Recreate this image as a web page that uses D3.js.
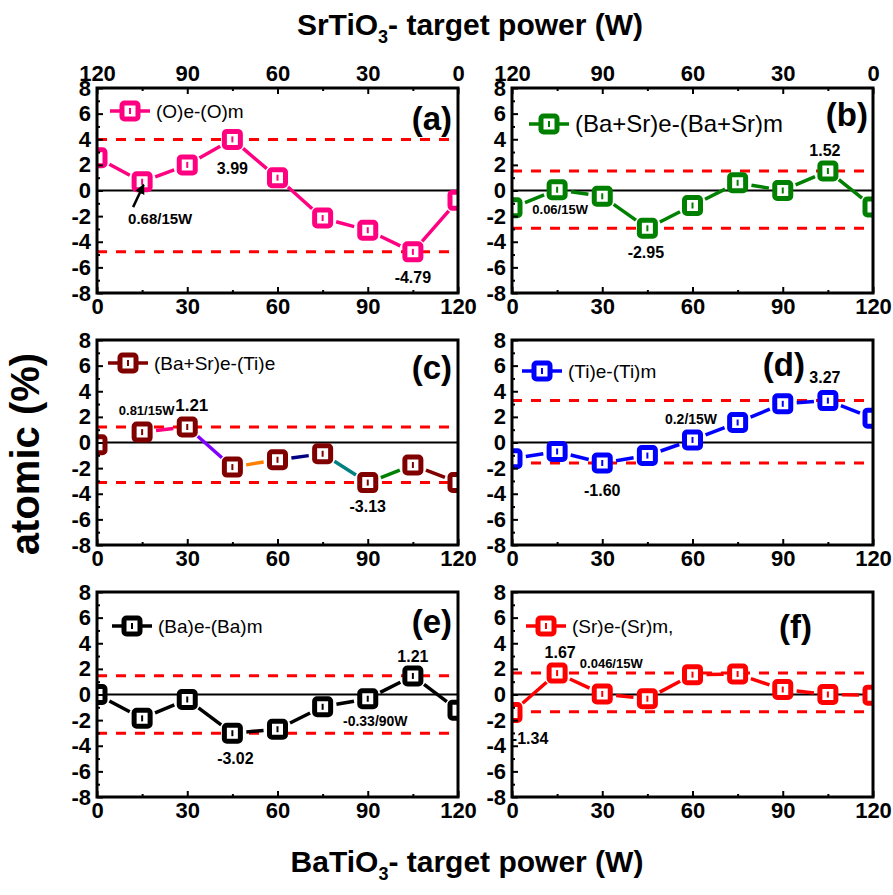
<!DOCTYPE html>
<html>
<head>
<meta charset="utf-8">
<script src="https://cdn.jsdelivr.net/npm/d3@7"></script>
<style>
  body { margin: 0; background: #fff; }
  text { font-family: "Liberation Sans", Arial, sans-serif; }
</style>
</head>
<body>
<script>
// Data (x = BaTiO3 target power, W)
var powers = [0, 15, 30, 45, 60, 75, 90, 105, 120];
var oDiff = [2.56, 0.68, 2.0, 3.99, 1.0, -2.15, -3.1, -4.79, -0.77];
var baSrDiff = [-1.35, 0.06, -0.45, -2.95, -1.17, 0.6, 0.0, 1.52, -1.28];
var baSrTiDiff = [-0.18, 0.81, 1.21, -1.92, -1.35, -0.88, -3.13, -1.76, -3.12];
var tiDiff = [-1.27, -0.7, -1.60, -1.02, 0.2, 1.56, 3.02, 3.27, 1.9];
var baDiff = [0.0, -1.86, -0.39, -3.02, -2.71, -0.96, -0.33, 1.45, -1.22];
var srDiff = [-1.40, 1.67, 0.046, -0.33, 1.55, 1.6, 0.39, 0.0, -0.05];

var seriesNames = ["(O)e-(O)m", "(Ba+Sr)e-(Ba+Sr)m", "(Ba+Sr)e-(Ti)e", "(Ti)e-(Ti)m", "(Ba)e-(Ba)m", "(Sr)e-(Sr)m,"];
var panelLetters = ["(a)", "(b)", "(c)", "(d)", "(e)", "(f)"];
var refLevels = [[3.99, -4.79], [1.52, -2.95], [1.21, -3.13], [3.27, -1.60], [1.47, -3.02], [1.67, -1.34]];

var yTicks = [-8, -6, -4, -2, 0, 2, 4, 6, 8];
var yMinor = [-7, -5, -3, -1, 1, 3, 5, 7];
var xTicks = [0, 30, 60, 90, 120];
var xMinor = [15, 45, 75, 105];
var topTicks = [120, 90, 60, 30, 0];

// annotations: [text, x, y, fontSize] in data units
var notes = [
  [["3.99", 45, 1.75, 16], ["0.68/15W", 21, -2.2, 15], ["-4.79", 105, -6.8, 16]],
  [["0.06/15W", 16, -1.5, 13], ["-2.95", 44.5, -4.85, 16], ["1.52", 104, 3.1, 16]],
  [["0.81/15W", 16.5, 2.5, 13], ["1.21", 31.5, 2.95, 17], ["-3.13", 90, -5.0, 16]],
  [["0.2/15W", 59.5, 1.8, 14], ["3.27", 104, 5.05, 16], ["-1.60", 30, -3.7, 16]],
  [["-3.02", 46, -5.0, 16], ["-0.33/90W", 92.5, -2.1, 14], ["1.21", 105, 2.95, 16]],
  [["1.67", 16, 3.25, 16], ["0.046/15W", 33, 2.4, 13], ["-1.34", 6, -3.4, 16]]
];

var allValues = [oDiff, baSrDiff, baSrTiDiff, tiDiff, baDiff, srDiff];
var colors = ["#ff0080", "#008000", "#800000", "#0000ff", "#000000", "#ff0000"];
// segment colours used in panel (c)
var cSegColors = ["none", "#ff0080", "#8000ff", "#ff8000", "#000080", "#008080", "#008000", "#800000"];

var W = 893, H = 895;
var colX = [97, 512], rowY = [88, 340, 592];
var pw = 361, ph = 205;
// legend / label placement per panel (pixels inside panel)
var legendPos = [[13, 23, 19], [17, 36, 24], [11, 23, 19], [10, 31, 19], [15, 34, 19], [14, 34, 19]];
var letterPos = [[355, 30], [356, 26], [355, 27], [293, 24], [355, 29], [300, 34]];

var svg = d3.select("body").append("svg")
    .attr("width", W)
    .attr("height", H);

var defs = svg.append("defs");
defs.append("marker")
    .attr("id", "arrow")
    .attr("viewBox", "0 0 10 10")
    .attr("refX", 9).attr("refY", 5)
    .attr("markerWidth", 4).attr("markerHeight", 4)
    .attr("orient", "auto")
    .append("path").attr("d", "M0,0L10,5L0,10z").attr("fill", "#000");

function drawMarker(g, cx, cy, color) {
    var m = g.append("g").attr("transform", "translate(" + cx + "," + cy + ")");
    m.append("rect").attr("x", -8).attr("y", -8).attr("width", 16).attr("height", 16)
        .attr("rx", 2.5).attr("fill", "#fff").attr("stroke", color).attr("stroke-width", 5);
    m.append("rect").attr("x", -1).attr("y", -3).attr("width", 2).attr("height", 6).attr("fill", color);
}

var plain = function (d) { return String(d); };

allValues.forEach(function (vals, i) {
    var col = i % 2, row = Math.floor(i / 2);
    var g = svg.append("g").attr("transform", "translate(" + colX[col] + "," + rowY[row] + ")");
    var x = d3.scaleLinear().domain([0, 120]).range([0, pw]);
    var y = d3.scaleLinear().domain([-8, 8]).range([ph, 0]);

    defs.append("clipPath").attr("id", "clip" + i)
        .append("rect").attr("width", pw).attr("height", ph);
    var plot = g.append("g").attr("clip-path", "url(#clip" + i + ")");

    // zero line
    plot.append("line").attr("x1", 0).attr("x2", pw).attr("y1", y(0)).attr("y2", y(0))
        .attr("stroke", "#000").attr("stroke-width", 2);

    // reference dashed lines
    refLevels[i].forEach(function (v) {
        plot.append("line").attr("x1", 0).attr("x2", pw).attr("y1", y(v)).attr("y2", y(v))
            .attr("stroke", "#ff0000").attr("stroke-width", 3).attr("stroke-dasharray", "10,9");
    });

    // line segments with gap to symbol
    var gap = 14;
    for (var k = 0; k < vals.length - 1; k++) {
        var x1 = x(powers[k]), y1 = y(vals[k]), x2 = x(powers[k + 1]), y2 = y(vals[k + 1]);
        var len = Math.hypot(x2 - x1, y2 - y1);
        if (len <= 2 * gap) continue;
        var ux = (x2 - x1) / len, uy = (y2 - y1) / len;
        var c = i === 2 ? cSegColors[k] : colors[i];
        if (c === "none") continue;
        plot.append("line")
            .attr("x1", x1 + ux * gap).attr("y1", y1 + uy * gap)
            .attr("x2", x2 - ux * gap).attr("y2", y2 - uy * gap)
            .attr("stroke", c).attr("stroke-width", 3.5);
    }

    vals.forEach(function (v, k) { drawMarker(plot, x(powers[k]), y(v), colors[i]); });

    // axes
    g.append("g").call(d3.axisLeft(y).tickValues(yTicks).tickSize(-6).tickPadding(6).tickFormat(plain))
        .call(function (a) { a.select(".domain").remove(); });
    g.append("g").call(d3.axisLeft(y).tickValues(yMinor).tickSize(-3).tickFormat(""))
        .call(function (a) { a.select(".domain").remove(); });
    g.append("g").attr("transform", "translate(0," + ph + ")")
        .call(d3.axisBottom(x).tickValues(xTicks).tickSize(-6).tickPadding(5).tickFormat(plain))
        .call(function (a) { a.select(".domain").remove(); });
    g.append("g").attr("transform", "translate(0," + ph + ")")
        .call(d3.axisBottom(x).tickValues(xMinor).tickSize(-3).tickFormat(""))
        .call(function (a) { a.select(".domain").remove(); });
    if (row === 0) {
        var xt = d3.scaleLinear().domain([120, 0]).range([0, pw]);
        g.append("g").call(d3.axisTop(xt).tickValues(topTicks).tickSize(-6).tickPadding(7).tickFormat(plain))
            .call(function (a) { a.select(".domain").remove(); });
        g.append("g").call(d3.axisTop(xt).tickValues(xMinor).tickSize(-3).tickFormat(""))
            .call(function (a) { a.select(".domain").remove(); });
    }
    g.selectAll(".tick line").attr("stroke", "#000").attr("stroke-width", 2);
    g.selectAll(".tick text").attr("font-size", 22).attr("font-weight", "bold")
        .attr("font-family", "'Liberation Sans', Arial, sans-serif").attr("fill", "#000");

    // frame
    g.append("rect").attr("width", pw).attr("height", ph)
        .attr("fill", "none").attr("stroke", "#000").attr("stroke-width", 3);

    // legend
    var lp = legendPos[i];
    g.append("line").attr("x1", lp[0]).attr("x2", lp[0] + 40).attr("y1", lp[1]).attr("y2", lp[1])
        .attr("stroke", colors[i]).attr("stroke-width", 3.5);
    drawMarker(g, lp[0] + 20, lp[1], colors[i]);
    g.append("text").attr("x", lp[0] + 46).attr("y", lp[1]).attr("dy", "0.35em")
        .attr("font-size", lp[2]).text(seriesNames[i]);

    // panel letter
    g.append("text").attr("x", letterPos[i][0]).attr("y", letterPos[i][1]).attr("dy", "0.35em")
        .attr("text-anchor", "end").attr("font-size", 33).attr("font-weight", "bold")
        .text(panelLetters[i]);

    // value annotations
    notes[i].forEach(function (n) {
        g.append("text").attr("x", x(n[1])).attr("y", y(n[2])).attr("dy", "0.35em")
            .attr("text-anchor", "middle").attr("font-size", n[3]).attr("font-weight", "bold")
            .text(n[0]);
    });

    if (i === 0) {
        g.append("line").attr("x1", x(12)).attr("y1", y(-1.3)).attr("x2", x(15.5)).attr("y2", y(0.45))
            .attr("stroke", "#000").attr("stroke-width", 2.5).attr("marker-end", "url(#arrow)");
    }
});

// titles
var topTitle = svg.append("text").attr("x", 470).attr("y", 35).attr("text-anchor", "middle")
    .attr("font-size", 30).attr("font-weight", "bold");
topTitle.append("tspan").text("SrTiO");
topTitle.append("tspan").attr("font-size", 18).attr("dy", 8).text("3");
topTitle.append("tspan").attr("dy", -8).text("- target power (W)");

var bottomTitle = svg.append("text").attr("x", 467).attr("y", 872).attr("text-anchor", "middle")
    .attr("font-size", 30).attr("font-weight", "bold");
bottomTitle.append("tspan").text("BaTiO");
bottomTitle.append("tspan").attr("font-size", 18).attr("dy", 8).text("3");
bottomTitle.append("tspan").attr("dy", -8).text("- target power (W)");

svg.append("text").attr("transform", "translate(39,454) rotate(-90)")
    .attr("text-anchor", "middle").attr("font-size", 40).attr("font-weight", "bold")
    .text("atomic (%)");
</script>
</body>
</html>
